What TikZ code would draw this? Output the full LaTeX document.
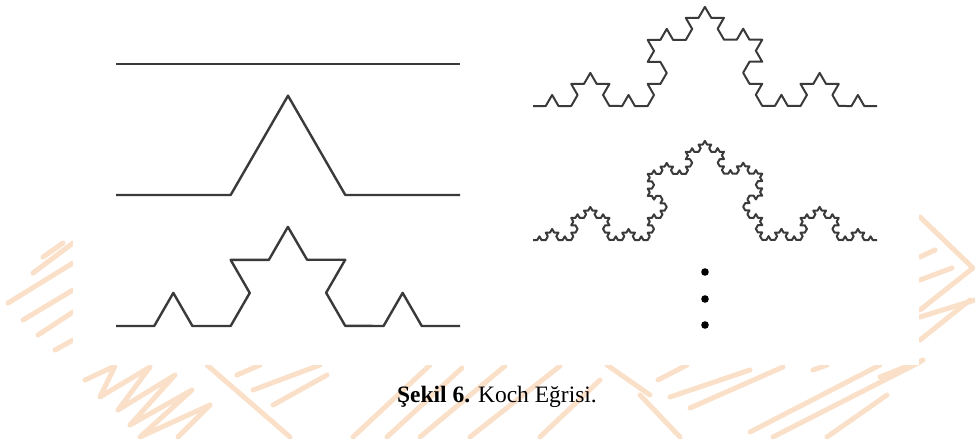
\documentclass[tikz,border=0pt]{standalone}
\usepackage{fontspec}
\setmainfont{Liberation Serif}
\usetikzlibrary{decorations.fractals}

\definecolor{wmpeach}{RGB}{250,224,200}
\definecolor{curvegray}{RGB}{58,58,58}

\tikzset{
	wmark/.style={wmpeach, line width=5pt, line cap=round, line join=round},
	koch/.style={draw=curvegray, line width=2.4pt, line join=round, decoration=Koch snowflake},
	kochfine/.style={koch, line width=2pt},
}

\begin{document}
\begin{tikzpicture}[x=1pt, y=-1pt]
	
	\useasboundingbox (0,0) rectangle (975,439);
	
	\def\xl{116}
	\def\xr{460}
	\def\xL{533}
	\def\xR{877}
	
	% watermark strokes round the white panel
	\foreach \ax/\ay/\bx/\by in {8/303/73/263, 23/320/73/290, 38/335/73/312, 55/350/73/340,
		33/273/73/243, 43/257/63/243, 237/375/260/365, 253/390/320/365, 273/405/327/375,
		207/365/290/437, 353/437/430/365, 387/437/462/368, 420/437/505/366, 470/437/560/366,
		540/437/600/380, 607/365/650/395, 658/380/687/365, 670/397/750/370, 690/408/783/367,
		640/395/680/437, 750/432/880/365, 773/437/920/362, 813/370/827/365, 827/437/887/395,
		920/257/935/250, 920/280/952/268, 920/317/975/300, 920/340/970/300, 880/377/923/360}
	\draw[wmark] (\ax,\ay) -- (\bx,\by);
	\draw[wmark] (85,380) -- (115,366) -- (100,397) -- (150,367) -- (118,410) -- (175,375)
		-- (130,425) -- (192,390) -- (140,437) -- (210,405) -- (178,437);
	\draw[wmark] (920,217) -- (973,268) -- (920,310);
	
	% white panel
	\fill[white] (73,0) rectangle (919,365);
	
	% left column: steps 0, 1, 2
	\coordinate (s0a) at (\xl,64);
	\coordinate (s0b) at (\xr,64);
	\coordinate (s1a) at (\xl,195);
	\coordinate (s1b) at (\xr,195);
	\coordinate (s2a) at (\xl,326);
	\coordinate (s2b) at (\xr,326);
	
	\draw[koch] (s0a) -- (s0b);
	\draw[koch] decorate{(s1a) -- (s1b)};
	\draw[koch] decorate{decorate{(s2a) -- (s2b)}};
	
	% right column: steps 3, 4
	\coordinate (s3a) at (\xL,106);
	\coordinate (s3b) at (\xR,106);
	\coordinate (s4a) at (\xL,240);
	\coordinate (s4b) at (\xR,240);
	
	\draw[kochfine] decorate{decorate{decorate{(s3a) -- (s3b)}}};
	\draw[kochfine] decorate{decorate{decorate{decorate{(s4a) -- (s4b)}}}};
	
	\foreach \yv in {272,299,325}
	\fill (705,\yv) circle (3.8pt);
	
	\node[font=\fontsize{23.5}{28}\selectfont] (caption) at (497,397)
		{\textbf{Şekil 6.} Koch Eğrisi.};
	
\end{tikzpicture}
\end{document}
